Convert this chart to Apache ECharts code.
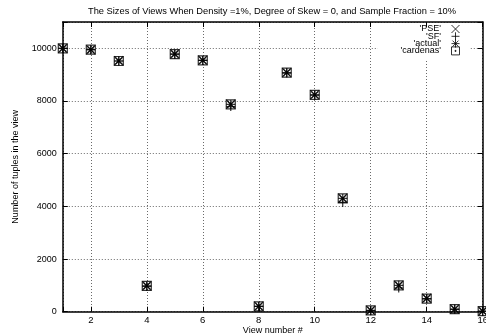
<!DOCTYPE html>
<html><head><meta charset="utf-8">
<script src="https://cdn.jsdelivr.net/npm/echarts@6/dist/echarts.min.js"></script>
<style>html,body{margin:0;padding:0;background:#fff}#c{width:486px;height:334px}</style>
</head><body><div id="c"></div>
<script>
const viewNumbers = [1, 2, 3, 4, 5, 6, 7, 8, 9, 10, 11, 12, 13, 14, 15, 16];
const pse      = [10000, 9940, 9530, 980, 9790, 9550, 7880, 210, 9080, 8240, 4310, 50, 1000, 510, 100, 20];
const sf       = [10000, 9950, 9520, 960, 9780, 9540, 7790, 200, 9060, 8220, 4150, 40, 900, 490, 90, 10];
const actual   = [10000, 9950, 9520, 980, 9780, 9540, 7870, 200, 9080, 8230, 4300, 50, 1000, 500, 100, 20];
const cardenas = [10000, 9950, 9520, 980, 9780, 9540, 7870, 200, 9080, 8230, 4300, 50, 1000, 500, 100, 20];
const seriesNames = ["'PSE'", "'SF'", "'actual'", "'cardenas'"];
const xTickLabels = [2, 4, 6, 8, 10, 12, 14, 16];
const yTickLabels = [0, 2000, 4000, 6000, 8000, 10000];

const icons = [
  'path://M0,0L8,8M8,0L0,8',
  'path://M4,0V8M0,4H8',
  'path://M4,0V8M0,4H8M1,1L7,7M7,1L1,7',
  'path://M0,0H8V8H0ZM3.5,3.5H4.5V4.5H3.5Z'
];
const values = [pse, sf, actual, cardenas];
const font = 'Liberation Sans, Arial, Helvetica, sans-serif';
const markStyle = { color: 'rgba(0,0,0,0)', borderColor: '#000', borderWidth: 1.2 };
const legendMarkStyle = { color: 'rgba(0,0,0,0)', borderColor: '#000', borderWidth: 1 };

const chart = echarts.init(document.getElementById('c'), null, { renderer: 'canvas' });
const gridLine = { show: true, lineStyle: { color: '#6a6a6a', width: 1, type: [1, 2] } };
const axisLineStyle = { show: true, onZero: false, lineStyle: { color: '#000', width: 1.5 } };

chart.setOption({
  animation: false,
  backgroundColor: '#fff',
  textStyle: { fontFamily: font },
  title: {
    text: 'The Sizes of Views When Density =1%, Degree of Skew = 0, and Sample Fraction = 10%',
    left: 88, top: 7, padding: 0,
    textStyle: { fontSize: 9.3, fontWeight: 'normal', color: '#000', fontFamily: font }
  },
  grid: { left: 62.8, right: 3.3, top: 22, bottom: 22.3, containLabel: false, outerBoundsMode: 'none' },
  legend: {
    orient: 'vertical', align: 'right', right: 16, top: 23.5,
    padding: [1, 10, 4, 23], backgroundColor: '#fff',
    itemWidth: 9, itemHeight: 8, itemGap: -1.7,
    selectedMode: false, z: 4,
    textStyle: { fontSize: 9, lineHeight: 7, color: '#000', fontFamily: font, padding: [0, 5, 0, 0] },
    itemStyle: legendMarkStyle,
    data: seriesNames.map((n, i) => ({ name: n, icon: icons[i] }))
  },
  xAxis: [{
    type: 'value', min: 1, max: 16, splitNumber: 7, minInterval: 2, maxInterval: 2,
    name: 'View number #', nameLocation: 'middle', nameGap: 14, nameMoveOverlap: false,
    nameTextStyle: { fontSize: 9, color: '#000', fontFamily: font },
    axisLine: axisLineStyle,
    axisTick: { show: true, inside: true, length: 5, lineStyle: { color: '#000' } },
    axisLabel: { fontSize: 9.5, color: '#000', margin: 4, fontFamily: font,
      formatter: v => xTickLabels.indexOf(v) >= 0 ? String(v) : '' },
    splitLine: gridLine
  }, {
    type: 'value', min: 1, max: 16, splitNumber: 7, minInterval: 2, maxInterval: 2,
    position: 'top', z: 6,
    axisLine: axisLineStyle,
    axisTick: { show: true, inside: true, length: 5, lineStyle: { color: '#000' } },
    axisLabel: { show: false }, splitLine: { show: false }
  }],
  yAxis: [{
    type: 'value', min: 0, max: 11000, interval: 2000,
    name: 'Number of tuples in the view', nameLocation: 'middle', nameGap: 43, nameMoveOverlap: false,
    nameTextStyle: { fontSize: 9, color: '#000', fontFamily: font },
    axisLine: axisLineStyle,
    axisTick: { show: true, inside: true, length: 5, lineStyle: { color: '#000' } },
    axisLabel: { fontSize: 9, color: '#000', margin: 6, fontFamily: font,
      formatter: v => yTickLabels.indexOf(v) >= 0 ? String(v) : '' },
    splitLine: gridLine
  }, {
    type: 'value', min: 0, max: 11000, interval: 2000, position: 'right', z: 6,
    axisLine: axisLineStyle,
    axisTick: { show: true, inside: true, length: 5, lineStyle: { color: '#000' } },
    axisLabel: { show: false }, splitLine: { show: false }
  }],
  series: seriesNames.map((n, i) => ({
    name: n, type: 'scatter', xAxisIndex: 0, yAxisIndex: 0,
    symbol: icons[i], symbolSize: 9, z: 3,
    itemStyle: markStyle,
    emphasis: { disabled: true },
    data: viewNumbers.map((x, j) => [x, values[i][j]])
  }))
});
</script></body></html>
